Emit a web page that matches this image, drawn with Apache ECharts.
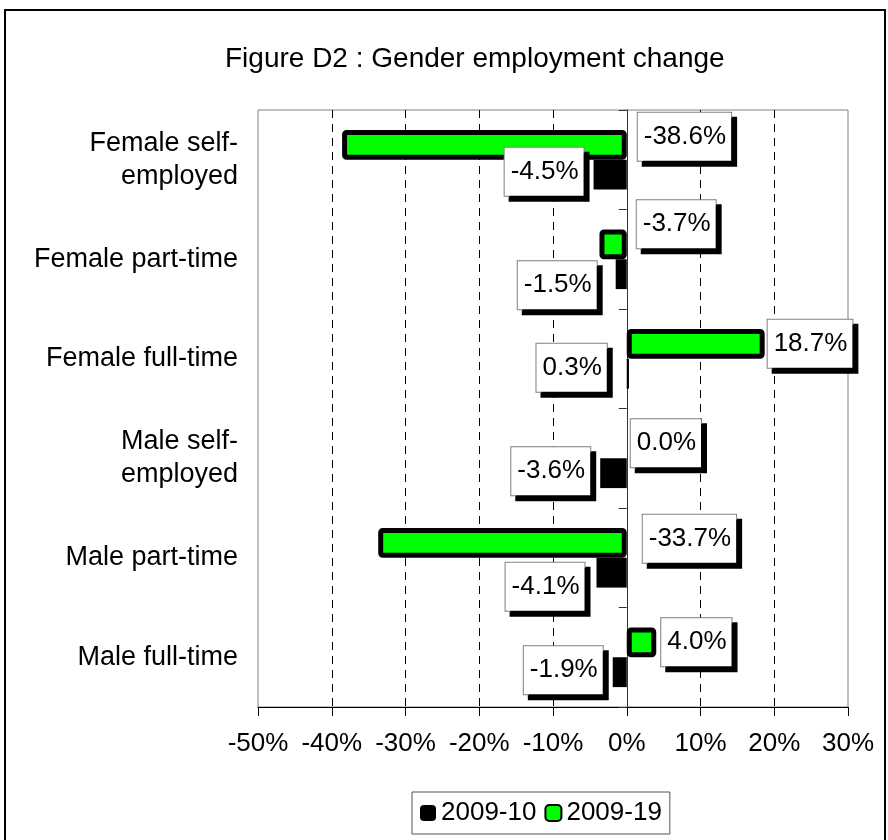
<!DOCTYPE html>
<html>
<head>
<meta charset="utf-8">
<script src="https://cdn.jsdelivr.net/npm/echarts@6/dist/echarts.min.js"></script>
<style>
  html, body { margin: 0; padding: 0; background: #fff; }
  #chart { width: 888px; height: 840px; }
</style>
</head>
<body>
<div id="chart"></div>
<script>
// categories top to bottom
var categories = ['Female self-\nemployed', 'Female part-time', 'Female full-time', 'Male self-\nemployed', 'Male part-time', 'Male full-time'];
var change0910 = [-4.5, -1.5, 0.3, -3.6, -4.1, -1.9];
var change0919 = [-38.6, -3.7, 18.7, 0.0, -33.7, 4.0];
var xTicks = [-50, -40, -30, -20, -10, 0, 10, 20, 30];

var font = 'Liberation Sans, Arial, sans-serif';

// label placement, tweaked by hand to sit like the original
var greenLabelDist = [11, 10, 3, 4, 16, 5];
var greenLabelDy = [-8, -20, 0, 0, -4, 0];
var blackLabelDist = [10, 19, 20, 10, 12, 10];
var blackLabelDy = [-3, 11, -6, -2, 14, -2];

var labelBox = {
  show: true,
  fontSize: 26,
  fontFamily: font,
  color: '#000',
  backgroundColor: '#fff',
  borderColor: '#7f7f7f',
  borderWidth: 1,
  padding: [12, 5, 10, 6],
  shadowColor: '#000',
  shadowBlur: 0,
  shadowOffsetX: 5,
  shadowOffsetY: 5,
  formatter: function (p) { return p.value.toFixed(1) + '%'; }
};

function withLabels(values, pos, dist, dy) {
  return values.map(function (v, i) {
    var item = {
      value: v,
      label: Object.assign({}, labelBox, { position: pos, distance: dist[i], offset: [0, dy[i]] })
    };
    // a zero bar has no visible outline in the original
    if (v === 0) item.itemStyle = { borderWidth: 0 };
    return item;
  });
}

var chart = echarts.init(document.getElementById('chart'));
var option = {
  backgroundColor: '#fff',
  animation: false,
  title: {
    text: 'Figure D2 : Gender employment change',
    left: 220,
    top: 40,
    textStyle: { fontSize: 28, fontWeight: 'normal', color: '#000', fontFamily: font }
  },
  graphic: [{
    type: 'rect',
    shape: { x: 5, y: 10, width: 880, height: 860 },
    style: { fill: 'none', stroke: '#000', lineWidth: 2 },
    silent: true
  }],
  legend: {
    data: ['2009-10', '2009-19'],
    left: 412,
    top: 792,
    itemWidth: 16,
    itemHeight: 16,
    itemGap: 8,
    padding: [8, 8, 8, 8],
    borderColor: '#555',
    borderWidth: 1,
    textStyle: { fontSize: 26, color: '#000', fontFamily: font }
  },
  grid: {
    left: 258,
    right: 40,
    top: 110,
    bottom: 133,
    show: true,
    borderColor: '#808080',
    borderWidth: 1
  },
  xAxis: {
    type: 'value',
    min: xTicks[0],
    max: xTicks[xTicks.length - 1],
    interval: 10,
    axisLine: { show: true, lineStyle: { color: '#000', width: 1 } },
    axisTick: { show: true, length: 9, lineStyle: { color: '#000' } },
    axisLabel: { fontSize: 26, color: '#000', fontFamily: font, margin: 24, formatter: '{value}%' },
    splitLine: {
      show: true,
      showMinLine: false,
      showMaxLine: false,
      lineStyle: { color: '#000', width: 1, type: [8, 6] }
    }
  },
  yAxis: [{
    // axis line through 0%
    type: 'category',
    data: categories,
    inverse: true,
    axisLine: { show: true, onZero: true, lineStyle: { color: '#333', width: 1 } },
    axisTick: { show: true, length: 8, lineStyle: { color: '#333' } },
    axisLabel: { show: false },
    splitLine: { show: false }
  }, {
    // labels at the left edge
    type: 'category',
    data: categories,
    inverse: true,
    position: 'left',
    axisLine: { show: false, onZero: false },
    axisTick: { show: false },
    axisLabel: { fontSize: 27, lineHeight: 33, color: '#000', fontFamily: font, margin: 20 },
    splitLine: { show: false }
  }],
  series: [{
    name: '2009-19',
    type: 'bar',
    yAxisIndex: 0,
    barGap: '0%',
    barCategoryGap: '40%',
    itemStyle: { color: '#00ff00', borderColor: '#000', borderWidth: 5, borderRadius: 2 },
    data: withLabels(change0919, 'right', greenLabelDist, greenLabelDy)
  }, {
    name: '2009-10',
    type: 'bar',
    yAxisIndex: 0,
    itemStyle: { color: '#000' },
    data: withLabels(change0910, 'left', blackLabelDist, blackLabelDy)
  }]
};
chart.setOption(option);
</script>
</body>
</html>
